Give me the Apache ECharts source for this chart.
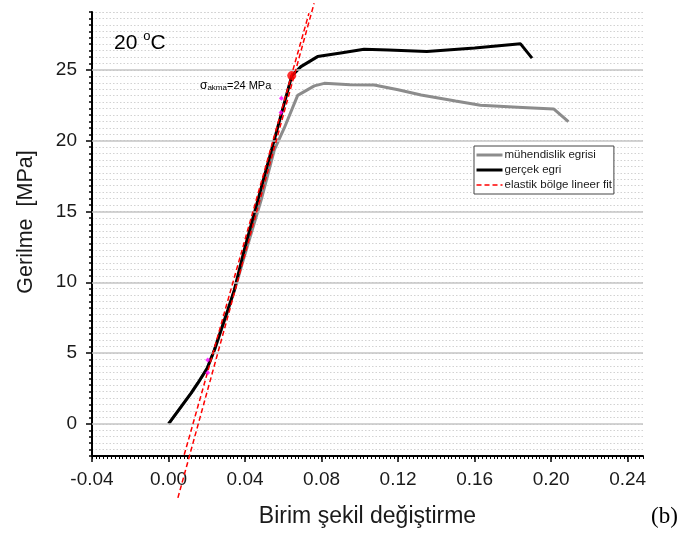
<!DOCTYPE html>
<html>
<head>
<meta charset="utf-8">
<script src="https://cdn.jsdelivr.net/npm/echarts@6/dist/echarts.min.js"></script>
<style>html,body{margin:0;padding:0;background:#fff;}#c{width:691px;height:542px;}</style>
</head>
<body>
<div id="c"></div>
<script>
// Engineering curve (mühendislik egrisi)
const strainEng = [0, 0.0118, 0.0153, 0.0202, 0.024, 0.0275, 0.031, 0.0344, 0.04, 0.0484, 0.0553, 0.0605, 0.0675, 0.0762, 0.0814, 0.095, 0.1075, 0.12, 0.132, 0.15, 0.163, 0.185, 0.2013, 0.209];
const stressEng = [0, 2.17, 2.87, 3.93, 5.2, 6.6, 8.0, 9.4, 12.0, 15.8, 19.35, 20.9, 23.2, 23.87, 24.05, 23.95, 23.94, 23.6, 23.23, 22.8, 22.5, 22.35, 22.24, 21.35];
// True curve (gerçek egri)
const strainTrue = [0, 0.0118, 0.0153, 0.0202, 0.024, 0.0275, 0.031, 0.0344, 0.0396, 0.0644, 0.0692, 0.0779, 0.09, 0.1022, 0.115, 0.135, 0.16, 0.184, 0.19];
const stressTrue = [0, 2.17, 2.87, 3.93, 5.23, 6.64, 8.05, 9.46, 12.29, 24.58, 25.23, 25.94, 26.2, 26.46, 26.4, 26.3, 26.55, 26.84, 25.83];
// Elastic linear fits
const fitStrainA = [0.0049, 0.0761];
const fitStressA = [-5.23, 29.71];
const fitStrainB = [0.0082, 0.0734];
const fitStressB = [-2.19, 29.0];
// Yield point and fit-range markers
const yieldStrain = [0.0644];
const yieldStress = [24.6];
const markerStrain = [0.0205, 0.0205, 0.059, 0.0588];
const markerStress = [4.5, 3.6, 23.0, 22.0];
// Tick labels
const xTicks = [-0.04, 0.00, 0.04, 0.08, 0.12, 0.16, 0.20, 0.24];
const yTicks = [0, 5, 10, 15, 20, 25];

const zip = (a, b) => a.map((v, i) => [v, b[i]]);
const FONT = 'Liberation Sans, Arial, sans-serif';
const TXT = '#1a1a1a';

const yStep = 5 / 11;
const yMin = -5 * yStep, yMax = 64 * yStep;
const xMin = -0.04, xMax = 0.248, xStep = 0.002;

const chart = echarts.init(document.getElementById('c'), null, {renderer: 'canvas'});
chart.setOption({
  backgroundColor: '#ffffff',
  animation: false,
  grid: {left: 92, right: 48, top: 12, bottom: 86},
  xAxis: [
    {
      type: 'value', min: xMin, max: xMax, interval: xStep, position: 'bottom',
      axisLine: {show: true, onZero: false, lineStyle: {color: '#000', width: 2}},
      axisTick: {show: true, inside: false, length: 3, lineStyle: {color: '#000', width: 1}},
      axisLabel: {show: false},
      splitLine: {show: false},
      name: 'Birim şekil değiştirme', nameLocation: 'middle', nameGap: 49,
      nameTextStyle: {fontFamily: FONT, fontSize: 23, color: TXT}
    },
    {
      type: 'value', min: xMin, max: xMax, interval: xStep, position: 'bottom',
      axisLine: {show: false, onZero: false},
      axisTick: {show: true, inside: false, length: 6, customValues: xTicks, lineStyle: {color: '#000', width: 1.5}},
      axisLabel: {show: true, customValues: xTicks, margin: 14, fontFamily: FONT, fontSize: 19, color: TXT,
        formatter: v => v.toFixed(2)},
      splitLine: {show: false}
    }
  ],
  yAxis: [
    {
      type: 'value', min: yMin, max: yMax, interval: yStep, position: 'left',
      axisLine: {show: true, onZero: false, lineStyle: {color: '#000', width: 2}},
      axisTick: {show: true, inside: false, length: 3, lineStyle: {color: '#000', width: 1.5}},
      axisLabel: {show: false},
      splitLine: {show: true, lineStyle: {color: '#d2d2d2', width: 1, type: [1.5, 2]}},
      name: 'Gerilme  [MPa]', nameLocation: 'middle', nameGap: 55, nameRotate: 90,
      nameTextStyle: {fontFamily: FONT, fontSize: 21.5, color: TXT, padding: [0, 0, 0, 24]}
    },
    {
      type: 'value', min: yMin, max: yMax, interval: yStep, position: 'left',
      axisLine: {show: false, onZero: false},
      axisTick: {show: true, inside: false, length: 6, customValues: yTicks, lineStyle: {color: '#000', width: 1.5}},
      axisLabel: {show: true, customValues: yTicks, margin: 15, fontFamily: FONT, fontSize: 19, color: TXT},
      splitLine: {show: false}
    }
  ],
  legend: {
    left: 474, top: 146, orient: 'vertical',
    data: [
      {name: 'mühendislik egrisi', lineStyle: {width: 3}},
      {name: 'gerçek egri', lineStyle: {width: 3}},
      {name: 'elastik bölge lineer fit', lineStyle: {width: 1.3}}
    ],
    itemWidth: 26, itemHeight: 10, itemGap: 3,
    padding: [3, 2, 3, 1],
    borderColor: '#444', borderWidth: 1, borderRadius: 0,
    backgroundColor: '#fff',
    itemStyle: {opacity: 0},
    textStyle: {fontFamily: FONT, fontSize: 11.5, color: TXT, padding: [0, 0, 0, -3]}
  },
  series: [
    {
      name: 'grid', type: 'line', data: [], z: 1, silent: true,
      markLine: {
        silent: true, symbol: ['none', 'none'], label: {show: false}, animation: false,
        lineStyle: {color: '#c4c4c4', width: 1.5, type: 'solid'},
        data: yTicks.map(v => ({yAxis: v}))
      }
    },
    {
      name: 'mühendislik egrisi', type: 'line', data: zip(strainEng, stressEng),
      symbol: 'none', lineStyle: {color: '#8c8c8c', width: 3}, itemStyle: {color: '#8c8c8c'}, z: 3
    },
    {
      name: 'gerçek egri', type: 'line', data: zip(strainTrue, stressTrue),
      symbol: 'none', lineStyle: {color: '#000', width: 3}, itemStyle: {color: '#000'}, z: 4
    },
    {
      name: 'elastik bölge lineer fit', type: 'line', data: zip(fitStrainA, fitStressA), clip: false,
      symbol: 'none', lineStyle: {color: '#ff0000', width: 1.5, type: [5, 3]}, itemStyle: {color: '#ff0000'}, z: 5
    },
    {
      name: 'elastik bölge lineer fit', type: 'line', data: zip(fitStrainB, fitStressB), clip: false,
      symbol: 'none', lineStyle: {color: '#ff0000', width: 1.5, type: [5, 3]}, itemStyle: {color: '#ff0000'}, z: 5
    },
    {
      name: 'fit range', type: 'scatter', data: zip(markerStrain, markerStress),
      symbol: 'diamond', symbolSize: 5, itemStyle: {color: '#ff00ff'}, z: 6
    },
    {
      name: 'akma', type: 'scatter', data: zip(yieldStrain, yieldStress),
      symbol: 'circle', symbolSize: 9, itemStyle: {color: '#ff0000'}, z: 7
    }
  ],
  graphic: [
    {
      type: 'text', left: 114, top: 30, z: 10,
      style: {
        text: '{n|20 }{s|o}{n|C}',
        rich: {
          n: {fontFamily: FONT, fontSize: 21, color: TXT, lineHeight: 24, verticalAlign: 'bottom'},
          s: {fontFamily: FONT, fontSize: 13, color: TXT, lineHeight: 24, verticalAlign: 'top', padding: [0, 0, 8, 0]}
        }
      }
    },
    {
      type: 'text', left: 200, top: 79, z: 10,
      style: {
        text: '{g|σ}{b|akma}{t|=24 MPa}',
        rich: {
          g: {fontFamily: FONT, fontSize: 12, color: '#333', lineHeight: 14},
          b: {fontFamily: FONT, fontSize: 8, color: '#333', lineHeight: 14, padding: [5, 0, 0, 0]},
          t: {fontFamily: FONT, fontSize: 11, color: '#333', lineHeight: 14}
        }
      }
    },
    {
      type: 'text', left: 651, top: 505, z: 10,
      style: {text: '(b)', fontFamily: 'Liberation Serif, DejaVu Serif, serif', fontSize: 23, fill: '#000'}
    }
  ]
});
</script>
</body>
</html>
